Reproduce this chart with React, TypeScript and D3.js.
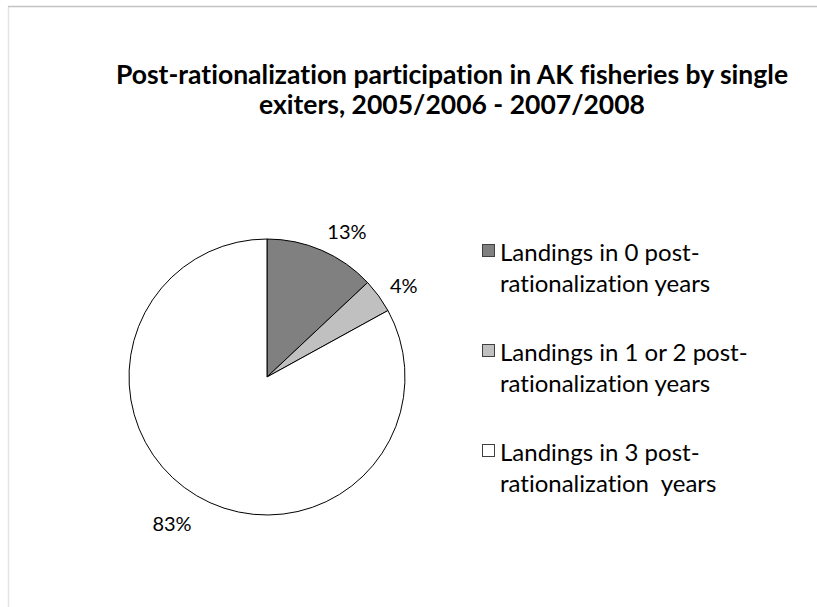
import React from "react";
import * as d3 from "d3";

// Share of single exiters by number of post-rationalization years with landings
const legendLines: string[][] = [
  ["Landings in 0 post-", "rationalization years"],
  ["Landings in 1 or 2 post-", "rationalization years"],
  ["Landings in 3 post-", "rationalization  years"],
];
const shares: number[] = [13, 4, 83];
const sliceFills: string[] = ["#808080", "#c0c0c0", "#ffffff"];
const titleLines: string[] = [
  "Post-rationalization participation in AK fisheries by single",
  "exiters, 2005/2006 - 2007/2008",
];

const W = 817;
const H = 607;
const FONT = "Lato, 'Open Sans', sans-serif";
const noLig: React.CSSProperties = { fontVariantLigatures: "none", whiteSpace: "pre" };

export default function App() {
  const cx = 267;
  const cy = 377;
  const r = 138;
  const labelR = r + 14;

  const pie = d3
    .pie<number>()
    .sort(null)
    .value((d) => d)
    .startAngle(0)
    .endAngle(2 * Math.PI);
  const arcs = pie(shares);
  const arcGen = d3.arc<d3.PieArcDatum<number>>().innerRadius(0).outerRadius(r);

  const legendX = 482;
  const legendTop = 261;
  const itemStep = 100;
  const lineStep = 31;

  return (
    <svg
      width={W}
      height={H}
      style={{ position: "absolute", left: 0, top: 0, background: "#fff" }}
    >
      {/* chart frame */}
      <line x1={8.5} y1={6.5} x2={8.5} y2={H} stroke="#e4e4e4" strokeWidth={1.5} />
      <line x1={8} y1={6.5} x2={W} y2={6.5} stroke="#c4c4c4" strokeWidth={1.5} />

      {/* title */}
      <g fontFamily={FONT} fontWeight="bold" fontSize={26.5} fill="#000" textAnchor="middle">
        {titleLines.map((t, i) => (
          <text key={i} x={452} y={84 + i * 30} style={noLig}>
            {t}
          </text>
        ))}
      </g>

      {/* pie */}
      <g transform={`translate(${cx},${cy})`}>
        {arcs.map((a, i) => (
          <path key={i} d={arcGen(a) || ""} fill={sliceFills[i]} stroke="#000" strokeWidth={1} />
        ))}
      </g>

      {/* value labels */}
      <g fontFamily={FONT} fontSize={20} fill="#000">
        {arcs.map((a, i) => {
          const mid = (a.startAngle + a.endAngle) / 2;
          const s = Math.sin(mid);
          const c = Math.cos(mid);
          const ax = cx + labelR * s;
          const ay = cy - labelR * c;
          const yMid = ay - c * 11 + (c < 0.95 ? 4 : 0);
          return (
            <text
              key={i}
              x={ax + (s >= 0 ? 0 : 2)}
              y={yMid + (c < 0 ? 2 : 0)}
              textAnchor={s >= 0 ? "start" : "end"}
              dominantBaseline="central"
            >
              {`${a.data}%`}
            </text>
          );
        })}
      </g>

      {/* legend */}
      <g fontFamily={FONT} fontSize={24} fill="#000">
        {legendLines.map((lines, i) => {
          const base = legendTop + i * itemStep;
          return (
            <g key={i}>
              <rect
                x={legendX + 0.5}
                y={base - 16.5}
                width={12}
                height={12}
                fill={sliceFills[i]}
                stroke="#404040"
                strokeWidth={1}
              />
              {lines.map((t, j) => (
                <text key={j} x={500} y={base + j * lineStep} style={noLig}>
                  {t}
                </text>
              ))}
            </g>
          );
        })}
      </g>
    </svg>
  );
}
